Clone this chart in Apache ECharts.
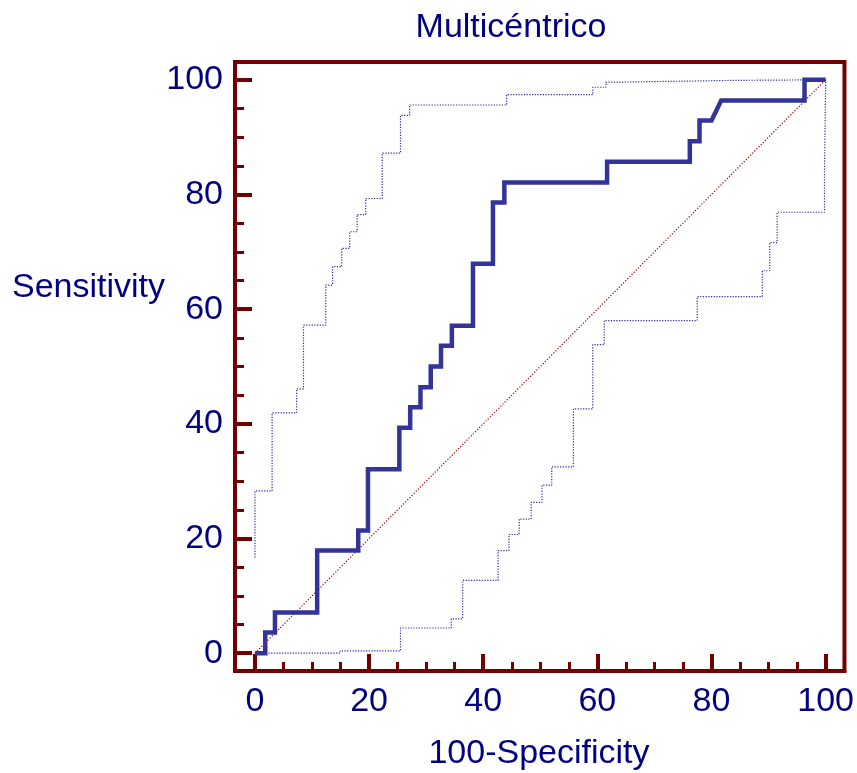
<!DOCTYPE html>
<html>
<head>
<meta charset="utf-8">
<script src="https://cdn.jsdelivr.net/npm/echarts@6/dist/echarts.min.js"></script>
<style>
html,body{margin:0;padding:0;background:#fff;}
#chart{width:857px;height:773px;}
</style>
</head>
<body>
<div id="chart"></div>
<script>
// ROC curve (100-Specificity, Sensitivity)
var rocPoints = [[0,0],[1.8,0],[1.8,3.6],[3.5,3.6],[3.5,7.1],[10.9,7.1],[10.9,17.9],[18.1,17.9],[18.1,21.4],[19.8,21.4],[19.8,32.1],[25.3,32.1],[25.3,39.3],[27.2,39.3],[27.2,42.9],[29.0,42.9],[29.0,46.4],[30.8,46.4],[30.8,50.0],[32.6,50.0],[32.6,53.6],[34.5,53.6],[34.5,57.1],[38.2,57.1],[38.2,67.9],[41.7,67.9],[41.7,78.6],[43.7,78.6],[43.7,82.1],[61.7,82.1],[61.7,85.7],[76.2,85.7],[76.2,89.3],[77.9,89.3],[77.9,92.9],[80.0,92.9],[81.7,96.4],[96.3,96.4],[96.3,100],[100,100]];
// Upper confidence bound
var upperPoints = [[0,16.7],[0,28.3],[3.0,28.3],[3.0,41.9],[7.3,41.9],[7.3,46.1],[8.5,46.1],[8.5,57.2],[12.4,57.2],[12.4,64.2],[13.6,64.2],[13.6,67.4],[15.2,67.4],[15.2,70.6],[16.6,70.6],[16.6,73.5],[17.9,73.5],[17.9,76.5],[19.4,76.5],[19.4,79.3],[22.3,79.3],[22.3,87.2],[25.5,87.2],[25.5,93.8],[27.1,93.8],[27.1,95.6],[44.1,95.6],[44.1,97.4],[59.2,97.4],[59.2,98.7],[61.5,98.7],[61.5,99.6],[64.4,99.6],[64.4,99.9],[84.5,99.9],[84.5,100],[100,100]];
// Lower confidence bound
var lowerPoints = [[0,0],[14.9,0],[14.9,0.4],[25.5,0.4],[25.5,4.4],[34.4,4.4],[34.4,6.0],[36.4,6.0],[36.4,12.7],[42.6,12.7],[42.6,17.9],[44.5,17.9],[44.5,20.7],[46.3,20.7],[46.3,23.4],[48.4,23.4],[48.4,26.3],[50.3,26.3],[50.3,29.3],[52.0,29.3],[52.0,32.5],[55.8,32.5],[55.8,42.6],[59.2,42.6],[59.2,53.8],[61.2,53.8],[61.2,58.0],[77.5,58.0],[77.5,62.2],[88.9,62.2],[88.9,66.7],[90.2,66.7],[90.2,71.6],[91.5,71.6],[91.5,76.9],[99.8,76.9],[99.8,83.5],[100,83.5],[100,100]];
// Reference diagonal
var diagonalPoints = [[0,0],[100,100]];
// Tick values
var majorTicks = [0,20,40,60,80,100];
var minorTicks = [5,10,15,25,30,35,45,50,55,65,70,75,85,90,95];

var MAROON = '#730000';
var NAVY = '#000080';
var FONT = "'Liberation Sans', Arial, sans-serif";

function axisPair(dim, min, max){
  var major = {
    type: 'value', min: min, max: max,
    axisLine: {show: true, onZero: false, lineStyle: {color: MAROON, width: 4}},
    axisTick: {show: true, inside: true, length: 17, customValues: majorTicks, lineStyle: {color: MAROON, width: 4}},
    axisLabel: {show: true, customValues: majorTicks, color: NAVY, fontSize: 34, fontFamily: FONT, margin: dim === 'x' ? 14 : 12},
    splitLine: {show: false}
  };
  var minor = {
    type: 'value', min: min, max: max,
    axisLine: {show: false, onZero: false},
    axisTick: {show: true, inside: true, length: 9, customValues: minorTicks, lineStyle: {color: MAROON, width: 3}},
    axisLabel: {show: false},
    splitLine: {show: false}
  };
  if (dim === 'x') { major.position = 'bottom'; minor.position = 'bottom'; }
  else { major.position = 'left'; minor.position = 'left'; }
  return [major, minor];
}

var chart = echarts.init(document.getElementById('chart'), null, {renderer: 'canvas'});
chart.setOption({
  animation: false,
  backgroundColor: '#fff',
  title: [
    {text: 'Multicéntrico', left: 506, top: 6, textAlign: 'center', textStyle: {color: NAVY, fontSize: 34, fontWeight: 'normal', fontFamily: FONT}},
    {text: 'Sensitivity', left: 7, top: 266, textStyle: {color: NAVY, fontSize: 34, fontWeight: 'normal', fontFamily: FONT}},
    {text: '100-Specificity', left: 534, top: 732, textAlign: 'center', textStyle: {color: NAVY, fontSize: 34, fontWeight: 'normal', fontFamily: FONT}}
  ],
  grid: {left: 235, right: 11, top: 62, bottom: 102, show: true, borderColor: MAROON, borderWidth: 4, backgroundColor: 'transparent'},
  xAxis: axisPair('x', -3.5, 103.3),
  yAxis: axisPair('y', -3.1, 103.1),
  series: [
    {type: 'line', data: diagonalPoints, xAxisIndex: 0, yAxisIndex: 0, showSymbol: false, symbol: 'none', z: 2,
     lineStyle: {color: '#990000', width: 1.2, type: [1.2, 1.8]}},
    {type: 'line', data: upperPoints, xAxisIndex: 0, yAxisIndex: 0, showSymbol: false, symbol: 'none', z: 3,
     lineStyle: {color: '#2a2aa0', width: 1.2, type: [1.2, 1.5]}},
    {type: 'line', data: lowerPoints, xAxisIndex: 0, yAxisIndex: 0, showSymbol: false, symbol: 'none', z: 3,
     lineStyle: {color: '#2a2aa0', width: 1.2, type: [1.2, 1.5]}},
    {type: 'line', data: rocPoints, xAxisIndex: 0, yAxisIndex: 0, showSymbol: false, symbol: 'none', z: 5,
     lineStyle: {color: '#333399', width: 4.5, join: 'miter'}}
  ]
});
</script>
</body>
</html>
